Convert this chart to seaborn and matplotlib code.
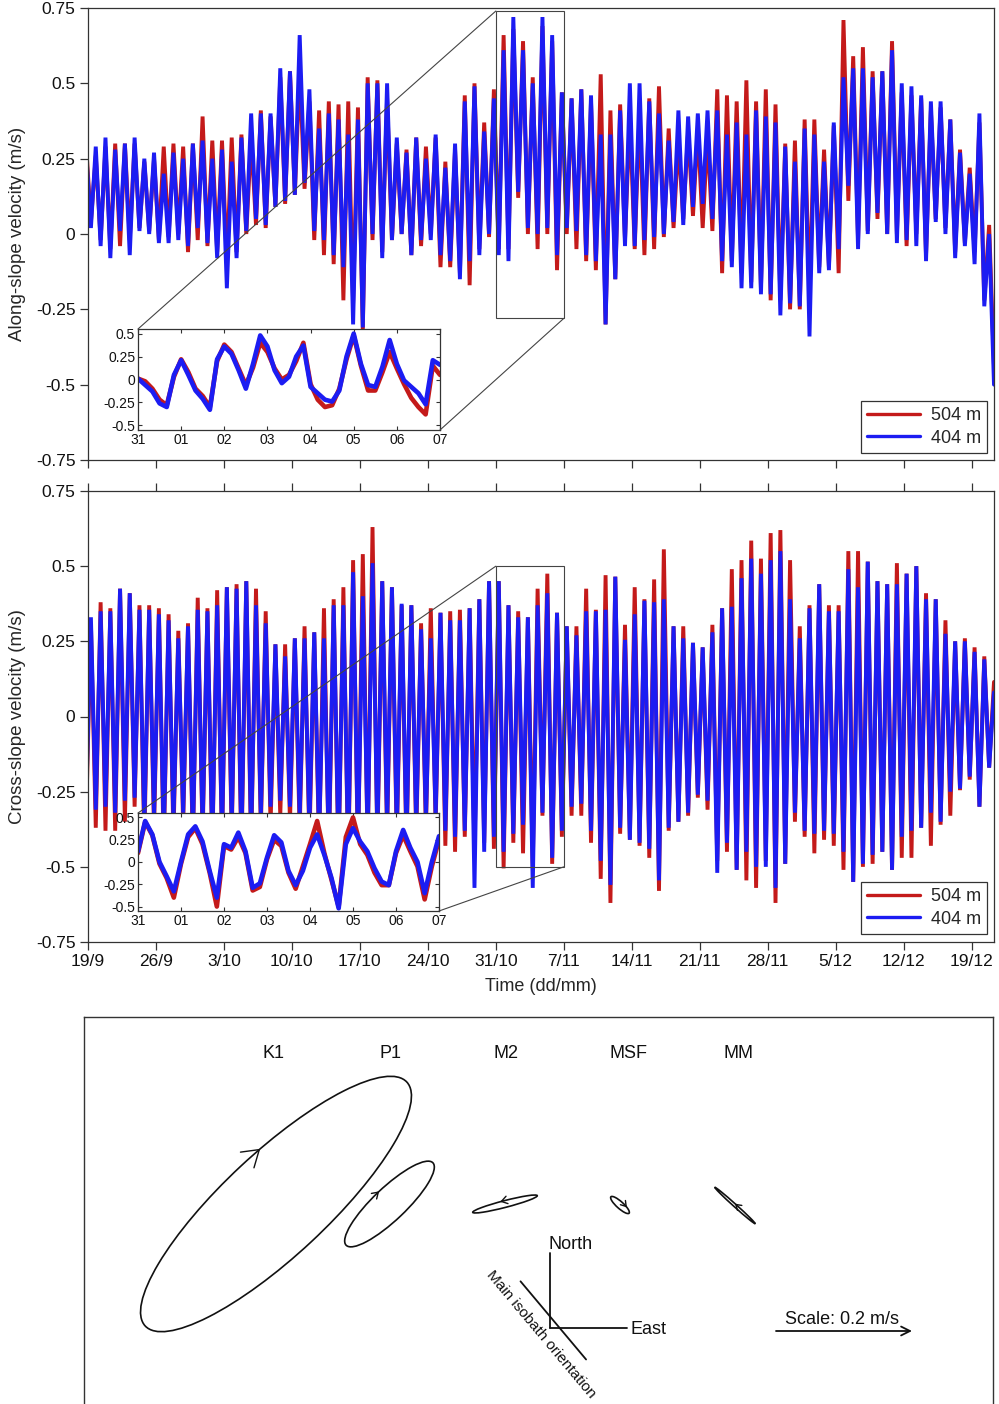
import numpy as np
import matplotlib
matplotlib.use("Agg")
import matplotlib.pyplot as plt
import seaborn as sns
from matplotlib.patches import Ellipse, Rectangle, ConnectionPatch
from matplotlib.lines import Line2D

sns.set_style("ticks")
plt.rcParams['font.family'] = ['Liberation Sans', 'DejaVu Sans']
plt.rcParams['axes.unicode_minus'] = False

RED = '#C41A1A'
BLUE = '#1C1CF2'

# ---------------- data (daily extremes) ----------------
day_labels = ['19/9', '26/9', '3/10', '10/10', '17/10', '24/10', '31/10',
              '7/11', '14/11', '21/11', '28/11', '5/12', '12/12', '19/12']
inset_labels = ['31', '01', '02', '03', '04', '05', '06', '07']
depth_labels = ['504 m', '404 m']

along_504_max = [0.30, 0.26, 0.29, 0.30, 0.30, 0.30, 0.24, 0.25, 0.29, 0.30,
                 0.29, 0.30, 0.39, 0.31, 0.31, 0.32, 0.33, 0.32, 0.41, 0.39,
                 0.52, 0.54, 0.54, 0.44, 0.41, 0.44, 0.43, 0.44, 0.42, 0.52,
                 0.51, 0.45, 0.30, 0.28, 0.32, 0.29, 0.32, 0.24, 0.28, 0.46,
                 0.50, 0.37, 0.48, 0.66, 0.68, 0.64, 0.52, 0.69, 0.64, 0.47,
                 0.45, 0.48, 0.44, 0.53, 0.41, 0.43, 0.39, 0.41, 0.45, 0.49,
                 0.35, 0.31, 0.34, 0.35, 0.33, 0.48, 0.46, 0.44, 0.51, 0.44,
                 0.48, 0.43, 0.30, 0.31, 0.38, 0.38, 0.28, 0.36, 0.71, 0.59,
                 0.62, 0.54, 0.54, 0.64, 0.47, 0.46, 0.45, 0.41, 0.42, 0.38,
                 0.28, 0.22, 0.37, 0.03]
along_404_max = [0.28, 0.29, 0.32, 0.28, 0.30, 0.32, 0.25, 0.27, 0.20, 0.27,
                 0.25, 0.30, 0.31, 0.25, 0.28, 0.24, 0.32, 0.40, 0.40, 0.40,
                 0.55, 0.54, 0.66, 0.48, 0.35, 0.40, 0.38, 0.33, 0.38, 0.50,
                 0.50, 0.50, 0.32, 0.27, 0.32, 0.25, 0.33, 0.22, 0.30, 0.44,
                 0.49, 0.34, 0.45, 0.61, 0.72, 0.61, 0.50, 0.72, 0.66, 0.47,
                 0.45, 0.48, 0.46, 0.33, 0.33, 0.41, 0.50, 0.50, 0.44, 0.40,
                 0.31, 0.41, 0.39, 0.40, 0.41, 0.41, 0.33, 0.37, 0.33, 0.41,
                 0.39, 0.37, 0.29, 0.24, 0.35, 0.33, 0.24, 0.37, 0.52, 0.55,
                 0.55, 0.52, 0.54, 0.61, 0.50, 0.49, 0.46, 0.44, 0.44, 0.38,
                 0.27, 0.20, 0.40, 0.00]
along_504_min = [0.04, -0.02, -0.05, -0.04, -0.02, 0.02, 0.01, -0.02, -0.01, 0.00,
                 -0.06, -0.02, -0.04, -0.06, -0.10, -0.06, 0.00, 0.03, 0.02, 0.09,
                 0.10, 0.13, 0.15, -0.02, -0.07, -0.10, -0.22, -0.23, -0.32, -0.02,
                 -0.06, -0.02, 0.00, -0.07, -0.04, 0.00, -0.11, -0.11, -0.13, -0.17,
                 -0.05, -0.01, -0.05, -0.05, 0.12, 0.00, -0.05, 0.00, -0.12, 0.00,
                 -0.05, -0.09, -0.12, -0.30, -0.15, -0.02, -0.05, -0.07, -0.05, -0.01,
                 0.02, 0.05, 0.06, 0.02, 0.01, -0.13, -0.09, -0.13, -0.16, -0.18,
                 -0.22, -0.22, -0.25, -0.25, -0.22, -0.11, -0.11, -0.13, 0.11, -0.02,
                 0.01, 0.05, 0.00, 0.00, -0.04, 0.00, -0.07, 0.05, 0.02, -0.06,
                 -0.03, -0.06, -0.22, -0.44]
along_404_min = [0.02, -0.04, -0.08, 0.01, -0.07, 0.01, 0.00, -0.03, -0.03, -0.02,
                 -0.04, 0.02, -0.03, -0.08, -0.18, -0.08, 0.01, 0.05, 0.03, 0.09,
                 0.11, 0.13, 0.17, 0.01, -0.02, -0.07, -0.11, -0.30, -0.31, 0.00,
                 -0.08, -0.02, 0.00, -0.07, -0.02, -0.02, -0.07, -0.09, -0.15, -0.09,
                 -0.07, 0.00, -0.07, -0.09, 0.14, 0.02, 0.00, 0.02, -0.07, 0.02,
                 0.01, -0.07, -0.09, -0.30, -0.15, -0.04, -0.04, -0.02, -0.01, 0.00,
                 0.04, 0.03, 0.09, 0.10, 0.05, -0.09, -0.11, -0.18, -0.18, -0.20,
                 -0.20, -0.27, -0.23, -0.24, -0.34, -0.13, -0.12, -0.05, 0.16, -0.05,
                 0.00, 0.07, 0.00, -0.03, -0.02, -0.04, -0.09, 0.04, 0.00, -0.08,
                 -0.04, -0.10, -0.24, -0.50]

cross_504_max = [0.31, 0.38, 0.36, 0.425, 0.41, 0.37, 0.37, 0.36, 0.34, 0.285,
                 0.31, 0.395, 0.36, 0.42, 0.43, 0.44, 0.45, 0.425, 0.35, 0.24,
                 0.24, 0.26, 0.30, 0.28, 0.36, 0.39, 0.43, 0.52, 0.54, 0.63,
                 0.45, 0.43, 0.37, 0.37, 0.31, 0.36, 0.345, 0.35, 0.355, 0.36,
                 0.39, 0.45, 0.45, 0.37, 0.35, 0.33, 0.425, 0.475, 0.345, 0.30,
                 0.30, 0.425, 0.355, 0.47, 0.465, 0.305, 0.43, 0.39, 0.456, 0.556,
                 0.30, 0.30, 0.245, 0.23, 0.305, 0.36, 0.49, 0.52, 0.585, 0.525,
                 0.61, 0.62, 0.52, 0.30, 0.37, 0.44, 0.37, 0.37, 0.55, 0.55,
                 0.515, 0.45, 0.44, 0.51, 0.475, 0.50, 0.41, 0.39, 0.32, 0.25,
                 0.26, 0.23, 0.20, 0.115]
cross_404_max = [0.33, 0.35, 0.35, 0.425, 0.41, 0.355, 0.355, 0.34, 0.32, 0.26,
                 0.30, 0.355, 0.35, 0.37, 0.43, 0.425, 0.45, 0.37, 0.31, 0.24,
                 0.20, 0.26, 0.26, 0.28, 0.26, 0.37, 0.37, 0.48, 0.40, 0.51,
                 0.45, 0.43, 0.375, 0.37, 0.29, 0.26, 0.345, 0.32, 0.32, 0.36,
                 0.39, 0.45, 0.45, 0.37, 0.33, 0.33, 0.37, 0.41, 0.345, 0.30,
                 0.27, 0.35, 0.35, 0.355, 0.465, 0.255, 0.34, 0.385, 0.38, 0.39,
                 0.30, 0.26, 0.245, 0.23, 0.28, 0.36, 0.365, 0.46, 0.525, 0.475,
                 0.52, 0.55, 0.39, 0.26, 0.36, 0.44, 0.35, 0.35, 0.49, 0.43,
                 0.515, 0.45, 0.44, 0.44, 0.475, 0.50, 0.39, 0.39, 0.275, 0.25,
                 0.25, 0.215, 0.19, 0.08]
cross_504_min = [-0.35, -0.37, -0.38, -0.38, -0.35, -0.30,
                 -0.42, -0.38, -0.45, -0.40, -0.36, -0.44, -0.41, -0.46, -0.43, -0.40,
                 -0.47, -0.45, -0.38, -0.36, -0.33, -0.35, -0.38, -0.42, -0.44, -0.48,
                 -0.50, -0.52, -0.48, -0.46, -0.44, -0.40, -0.42, -0.45, -0.40, -0.38,
                 -0.36, -0.43, -0.45, -0.40, -0.45, -0.42,
                 -0.44, -0.505, -0.42, -0.455, -0.50, -0.33, -0.49, -0.40,
                 -0.33, -0.33, -0.42, -0.54, -0.62, -0.39, -0.41, -0.43, -0.47, -0.58,
                 -0.38, -0.35, -0.33, -0.27, -0.31, -0.48, -0.45, -0.51, -0.545, -0.57,
                 -0.48, -0.62, -0.49, -0.35, -0.40, -0.455, -0.41, -0.43, -0.51, -0.55,
                 -0.50, -0.49, -0.45, -0.51, -0.47, -0.47, -0.37, -0.43, -0.36, -0.33,
                 -0.245, -0.21, -0.30, -0.17]
cross_404_min = [-0.30, -0.31, -0.30, -0.32, -0.28, -0.27,
                 -0.36, -0.33, -0.40, -0.35, -0.32, -0.40, -0.37, -0.42, -0.40, -0.36,
                 -0.42, -0.40, -0.33, -0.30, -0.28, -0.30, -0.33, -0.37, -0.40, -0.43,
                 -0.45, -0.46, -0.43, -0.41, -0.40, -0.36, -0.38, -0.41, -0.36, -0.34,
                 -0.33, -0.38, -0.40, -0.38, -0.57, -0.45,
                 -0.40, -0.45, -0.39, -0.36, -0.57, -0.32, -0.47, -0.38,
                 -0.30, -0.29, -0.38, -0.48, -0.56, -0.37, -0.41, -0.42, -0.44, -0.545,
                 -0.37, -0.35, -0.32, -0.26, -0.28, -0.52, -0.42, -0.51, -0.45, -0.50,
                 -0.50, -0.57, -0.49, -0.32, -0.38, -0.39, -0.38, -0.39, -0.45, -0.55,
                 -0.49, -0.46, -0.45, -0.51, -0.40, -0.38, -0.37, -0.32, -0.35, -0.25,
                 -0.24, -0.20, -0.30, -0.17]

# 4-hourly readings of the insets, 31/10 00:00 -> 07/11 00:00
inset_along_504 = [0.01, -0.02, -0.10, -0.22, -0.28, 0.03, 0.22, 0.08, -0.10, -0.18, -0.30,
                   0.20, 0.38, 0.30, 0.12, -0.06, 0.13, 0.40, 0.30, 0.12, 0.00, 0.05, 0.20,
                   0.40, -0.05, -0.22, -0.30, -0.28, -0.10, 0.22, 0.48, 0.15, -0.12, -0.12,
                   0.08, 0.30, 0.12, -0.05, -0.20, -0.30, -0.38, 0.15, 0.05]
inset_along_404 = [0.01, -0.06, -0.13, -0.26, -0.30, 0.05, 0.21, 0.05, -0.12, -0.21, -0.33,
                   0.22, 0.36, 0.28, 0.10, -0.10, 0.17, 0.48, 0.36, 0.10, -0.04, 0.03, 0.25,
                   0.37, -0.08, -0.15, -0.22, -0.24, -0.12, 0.25, 0.50, 0.17, -0.06, -0.08,
                   0.14, 0.43, 0.17, -0.01, -0.08, -0.15, -0.27, 0.21, 0.16]
inset_cross_504 = [0.10, 0.45, 0.30, -0.02, -0.18, -0.40, -0.02, 0.28, 0.38, 0.20, -0.12,
                   -0.50, 0.18, 0.14, 0.28, 0.10, -0.32, -0.28, 0.03, 0.25, 0.18, -0.12,
                   -0.30, -0.05, 0.20, 0.46, 0.10, -0.20, -0.50, 0.28, 0.50, 0.20, 0.08,
                   -0.12, -0.26, -0.26, 0.10, 0.30, 0.12, -0.05, -0.42, -0.05, 0.25]
inset_cross_404 = [0.12, 0.46, 0.31, 0.00, -0.16, -0.33, 0.00, 0.31, 0.40, 0.23, -0.10,
                   -0.40, 0.20, 0.16, 0.33, 0.12, -0.29, -0.24, 0.05, 0.30, 0.22, -0.10,
                   -0.26, -0.10, 0.16, 0.31, 0.08, -0.18, -0.52, 0.20, 0.38, 0.23, 0.12,
                   -0.07, -0.22, -0.26, 0.12, 0.36, 0.16, 0.00, -0.35, 0.00, 0.29]

# tidal ellipses (m/s, degrees from East, rotation sense +1 ccw / -1 cw)
constituents = ['K1', 'P1', 'M2', 'MSF', 'MM']
semi_major = [0.263, 0.088, 0.049, 0.018, 0.040]
semi_minor = [0.076, 0.024, 0.005, 0.005, 0.002]
inclination = [43.0, 43.5, 14.5, -42.0, -42.0]
rotation_sense = [-1, -1, 1, -1, 1]
scale_speed = 0.2
isobath_angle = -50.0

# ---------------- figure ----------------
W, H = 999, 1404
fig = plt.figure(figsize=(W / 100, H / 100), dpi=100)


def frac(left, top, right, bottom):
    return [left / W, 1 - bottom / H, (right - left) / W, (bottom - top) / H]


n_days = len(along_504_max)
days = np.arange(n_days)
XMAX = 93.3
ZOOM_T0, ZOOM_T1 = 42, 49
yt = [-0.75, -0.5, -0.25, 0, 0.25, 0.5, 0.75]
ytl = ['-0.75', '-0.5', '-0.25', '0', '0.25', '0.5', '0.75']
xt = np.arange(0, 92, 7)
SP = '#333333'


def zig(first, second, t1, t2):
    t = np.column_stack([days + t1, days + t2]).ravel()
    v = np.column_stack([first, second]).ravel()
    return t, v


def style_main(ax):
    ax.set_xlim(0, XMAX)
    ax.set_ylim(-0.75, 0.75)
    ax.set_yticks(yt)
    ax.set_yticklabels(ytl)
    ax.set_xticks(xt)
    for s in ax.spines.values():
        s.set_color(SP)
        s.set_linewidth(0.9)
    ax.tick_params(direction='out', length=6, width=0.9, color=SP,
                   labelsize=12.5, labelcolor='#111111', pad=3)


def style_inset(ax):
    ax.set_xlim(0, 7)
    ax.set_ylim(-0.55, 0.55)
    ax.set_xticks(range(8))
    ax.set_xticklabels(inset_labels)
    ax.set_yticks([-0.5, -0.25, 0, 0.25, 0.5])
    ax.set_yticklabels(['-0.5', '-0.25', '0', '0.25', '0.5'])
    ax.set_facecolor('white')
    for s in ax.spines.values():
        s.set_color(SP)
        s.set_linewidth(0.9)
    ax.tick_params(direction='in', length=3, width=0.8, color=SP, top=True, right=True,
                   labelsize=10, labelcolor='#111111', pad=2)


LW = 2.8
t_in = np.arange(len(inset_along_404)) / 6.0

# ---- panel 1 : along-slope ----
ax1 = fig.add_axes(frac(88, 8, 994, 460))
for mx, mn, c in [(along_504_max, along_504_min, RED), (along_404_max, along_404_min, BLUE)]:
    t, v = zig(mx, mn, -0.2, 0.3)
    sns.lineplot(x=t, y=v, color=c, linewidth=LW, estimator=None, sort=False, ax=ax1)
for ln in ax1.lines:
    ln.set_solid_joinstyle('bevel')
style_main(ax1)
ax1.tick_params(labelbottom=False)
ax1.set_ylabel('Along-slope velocity (m/s)', fontsize=13.5)
ax1.yaxis.set_label_coords(-62 / 906, 0.5)
handles = [Line2D([0], [0], color=RED, lw=2.4), Line2D([0], [0], color=BLUE, lw=2.4)]
leg = ax1.legend(handles, depth_labels, loc='lower right', bbox_to_anchor=(0.9923, 0.0155),
                 borderaxespad=0, fontsize=13, handlelength=2.9, frameon=True,
                 fancybox=False, framealpha=1, edgecolor='#333333',
                 borderpad=0.35, labelspacing=0.3, handletextpad=0.6)
leg.get_frame().set_linewidth(0.9)
ax1.add_patch(Rectangle((ZOOM_T0, -0.28), ZOOM_T1 - ZOOM_T0, 1.02, fill=False,
                        ec='#444444', lw=0.8, zorder=5))

ins1 = fig.add_axes(frac(138, 329, 440, 430))
for vals, c in [(inset_along_504, RED), (inset_along_404, BLUE)]:
    sns.lineplot(x=t_in, y=vals, color=c, linewidth=3.3, estimator=None, sort=False, ax=ins1)
style_inset(ins1)
for (xa, ya), (xb, yb) in [((ZOOM_T0, 0.74), (0, 1)), ((ZOOM_T1, -0.28), (1, 0))]:
    fig.add_artist(ConnectionPatch(xyA=(xa, ya), coordsA=ax1.transData,
                                   xyB=(xb, yb), coordsB=ins1.transAxes,
                                   color='#444444', lw=0.8))

# ---- panel 2 : cross-slope ----
ax2 = fig.add_axes(frac(88, 491, 994, 942))
for mx, mn, c in [(cross_504_max, cross_504_min, RED), (cross_404_max, cross_404_min, BLUE)]:
    t, v = zig(mn, mx, -0.2, 0.3)
    sns.lineplot(x=t, y=v, color=c, linewidth=LW, estimator=None, sort=False, ax=ax2)
for ln in ax2.lines:
    ln.set_solid_joinstyle('bevel')
style_main(ax2)
ax2.tick_params(top=True, labeltop=False)
ax2.set_xticklabels(day_labels)
ax2.set_ylabel('Cross-slope velocity (m/s)', fontsize=13.5)
ax2.yaxis.set_label_coords(-62 / 906, 0.5)
ax2.set_xlabel('Time (dd/mm)', fontsize=13, labelpad=6)
leg2 = ax2.legend(handles, depth_labels, loc='lower right', bbox_to_anchor=(0.9923, 0.0177),
                  borderaxespad=0, fontsize=13, handlelength=2.9, frameon=True,
                  fancybox=False, framealpha=1, edgecolor='#333333',
                  borderpad=0.35, labelspacing=0.3, handletextpad=0.6)
leg2.get_frame().set_linewidth(0.9)
ax2.add_patch(Rectangle((ZOOM_T0, -0.5), ZOOM_T1 - ZOOM_T0, 1.0, fill=False,
                        ec='#444444', lw=0.8, zorder=5))

ins2 = fig.add_axes(frac(138, 813, 439, 911))
for vals, c in [(inset_cross_504, RED), (inset_cross_404, BLUE)]:
    sns.lineplot(x=t_in, y=vals, color=c, linewidth=3.3, estimator=None, sort=False, ax=ins2)
style_inset(ins2)
for (xa, ya), (xb, yb) in [((ZOOM_T0, 0.5), (0, 1)), ((ZOOM_T1, -0.5), (1, 0))]:
    fig.add_artist(ConnectionPatch(xyA=(xa, ya), coordsA=ax2.transData,
                                   xyB=(xb, yb), coordsB=ins2.transAxes,
                                   color='#444444', lw=0.8))

# ---- panel 3 : tidal ellipses ----
K = 0.2 / 136.0          # m/s per pixel of layout
BL, BT, BR, BB = 84, 1017, 993, 1430
ax3 = fig.add_axes(frac(BL, BT, BR, BB))
ax3.set_xlim(0, (BR - BL) * K)
ax3.set_ylim(0, (BB - BT) * K)
ax3.set_xticks([])
ax3.set_yticks([])
for s in ax3.spines.values():
    s.set_color(SP)
    s.set_linewidth(1.0)


def P(X, Y):
    return ((X - BL) * K, (BB - Y) * K)


label_x = [274, 390, 506, 628, 738]
centre_px = [(276, 1204), (389.5, 1204), (505, 1204), (620, 1205), (735, 1205.5)]
arrow_phi = [82, 90, 95, 63, 90]
head_px = [19, 7, 7, 6, 6]
for i, name in enumerate(constituents):
    ax3.text(*P(label_x[i], 1053), name, ha='center', va='center', fontsize=13, color='#111111')
    cx, cy = P(*centre_px[i])
    a, b, th = semi_major[i], semi_minor[i], np.deg2rad(inclination[i])
    ax3.add_patch(Ellipse((cx, cy), 2 * a, 2 * b, angle=inclination[i], fill=False,
                          ec='#111111', lw=1.2))
    ph = np.deg2rad(arrow_phi[i])
    R = np.array([[np.cos(th), -np.sin(th)], [np.sin(th), np.cos(th)]])
    tip = np.array([cx, cy]) + R @ np.array([a * np.cos(ph), b * np.sin(ph)])
    tan = rotation_sense[i] * (R @ np.array([-a * np.sin(ph), b * np.cos(ph)]))
    tan = tan / np.linalg.norm(tan)
    L = head_px[i] * K
    for ang in (np.deg2rad(33), -np.deg2rad(33)):
        Rw = np.array([[np.cos(ang), -np.sin(ang)], [np.sin(ang), np.cos(ang)]])
        w = tip - L * (Rw @ tan)
        ax3.plot([tip[0], w[0]], [tip[1], w[1]], color='#111111', lw=1.0)

# compass
o = P(550, 1328)
n_end = P(550, 1253)
e_end = P(627, 1328)
ax3.plot([o[0], n_end[0]], [o[1], n_end[1]], color='#111111', lw=1.3)
ax3.plot([o[0], e_end[0]], [o[1], e_end[1]], color='#111111', lw=1.3)
ax3.text(*P(548, 1244), 'North', ha='left', va='center', fontsize=13, color='#111111')
ax3.text(*P(630, 1329), 'East', ha='left', va='center', fontsize=13, color='#111111')
ic = np.array(P(553.3, 1320.4))
half = 51 * K
d = np.array([np.cos(np.deg2rad(isobath_angle)), np.sin(np.deg2rad(isobath_angle))])
ax3.plot([ic[0] - half * d[0], ic[0] + half * d[0]], [ic[1] - half * d[1], ic[1] + half * d[1]],
         color='#111111', lw=1.3)
ax3.text(*P(541, 1334), 'Main isobath orientation', rotation=isobath_angle,
         rotation_mode='anchor', ha='center', va='center', fontsize=11, color='#111111')

# scale arrow
s0 = P(776, 1331)
ax3.annotate('', xy=(s0[0] + scale_speed, s0[1]), xytext=s0,
             arrowprops=dict(arrowstyle='->', lw=1.3, color='#111111', mutation_scale=16,
                             shrinkA=0, shrinkB=0))
ax3.text(*P(842, 1319), 'Scale: %.1f m/s' % scale_speed, ha='center', va='center',
         fontsize=13, color='#111111')

fig.savefig('out.png', dpi=100)
